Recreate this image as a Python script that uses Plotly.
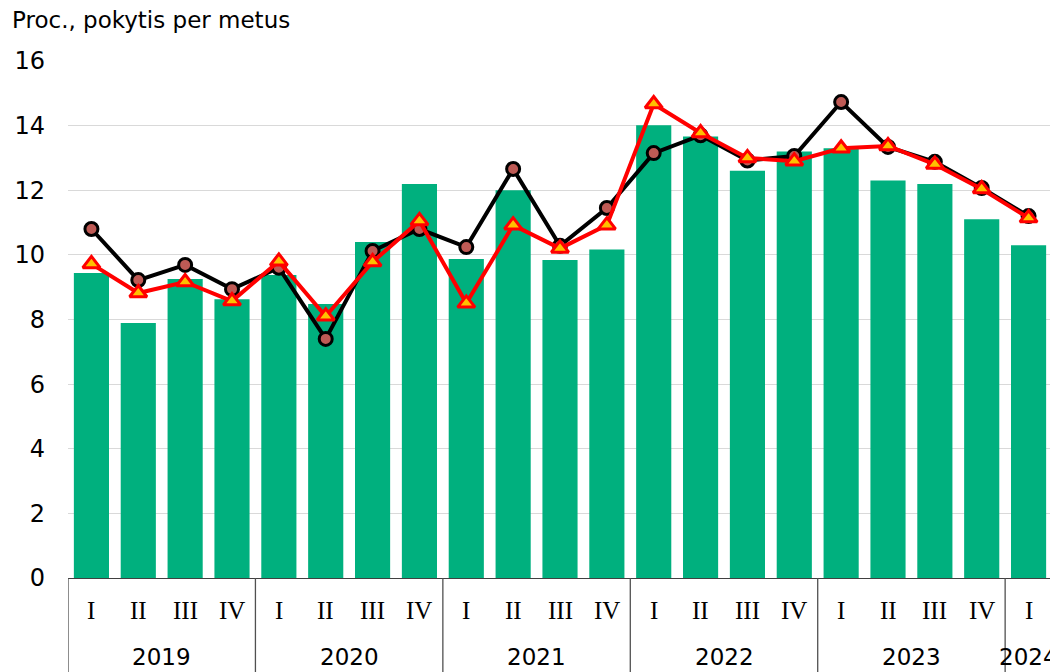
import plotly.graph_objects as go

years = ["2019", "2020", "2021", "2022", "2023", "2024"]
quarters = ["I", "II", "III", "IV"]
year_quarter_counts = [4, 4, 4, 4, 4, 1]

bar_values = [9.44, 7.89, 9.25, 8.63, 9.38, 8.48, 10.4, 12.19,
              9.87, 12.0, 9.84, 10.17, 14.01, 13.66, 12.6, 13.2,
              13.3, 12.3, 12.19, 11.1, 10.3]
black_values = [10.8, 9.22, 9.69, 8.94, 9.6, 7.4, 10.12, 10.8,
                10.24, 12.66, 10.28, 11.45, 13.15, 13.7, 12.92, 13.06,
                14.73, 13.34, 12.88, 12.07, 11.2]
red_values = [9.72, 8.82, 9.16, 8.57, 9.8, 8.1, 9.78, 11.05,
              8.5, 10.92, 10.2, 10.92, 14.67, 13.77, 13.0, 12.9,
              13.3, 13.37, 12.8, 12.04, 11.14]
y_ticks = [0, 2, 4, 6, 8, 10, 12, 14, 16]
title_text = "Proc., pokytis per metus"

# build categories
cat_year = []
cat_q = []
for y, n in zip(years, year_quarter_counts):
    for q in quarters[:n]:
        cat_year.append(y)
        cat_q.append(q)
categories = [f"{y} {q}" for y, q in zip(cat_year, cat_q)]

fig = go.Figure()
fig.add_trace(go.Bar(x=categories, y=bar_values, marker_color="#00B07E",
                     marker_line_width=0, showlegend=False))
fig.add_trace(go.Scatter(x=categories, y=black_values, mode="lines+markers",
                         line=dict(color="black", width=4),
                         marker=dict(symbol="circle", size=13, color="#BE5A55",
                                     line=dict(color="black", width=3)),
                         showlegend=False))
fig.add_trace(go.Scatter(x=categories, y=red_values, mode="lines+markers",
                         line=dict(color="#FF0000", width=4),
                         marker=dict(symbol="triangle-up", size=15, color="#FFC000",
                                     line=dict(color="#FF0000", width=3)),
                         showlegend=False))

annotations = []
shapes = []
for i, q in enumerate(cat_q):
    annotations.append(dict(x=categories[i], y=-0.062, xref="x", yref="paper",
                            text=q, showarrow=False, yanchor="middle",
                            font=dict(family="Liberation Serif", size=25, color="black")))
start = 0
for y, n in zip(years, year_quarter_counts):
    center = start + (n - 1) / 2
    annotations.append(dict(x=center, y=-0.153, xref="x", yref="paper",
                            text=y, showarrow=False, yanchor="middle",
                            font=dict(family="DejaVu Sans", size=23, color="black")))
    shapes.append(dict(type="line", xref="x", yref="paper", x0=start - 0.5, x1=start - 0.5,
                       y0=0, y1=-0.2, line=dict(color="#505050", width=1.3)))
    start += n
shapes.append(dict(type="line", xref="x", yref="paper", x0=start - 0.5, x1=start - 0.5,
                   y0=0, y1=-0.2, line=dict(color="#505050", width=1.3)))

annotations.append(dict(x=0, y=1, xref="paper", yref="paper", xshift=-58, yshift=41,
                        text=title_text, showarrow=False, xanchor="left", yanchor="middle",
                        font=dict(family="DejaVu Sans", size=23, color="black")))

fig.update_layout(
    width=1050, height=664,
    margin=dict(l=60, r=6, t=53, b=94),
    plot_bgcolor="white", paper_bgcolor="white",
    bargap=0.25,
    annotations=annotations, shapes=shapes,
    xaxis=dict(type="category", showticklabels=False, showgrid=False,
               range=[-0.5, len(categories) - 0.5],
               showline=True, linecolor="#404040", linewidth=1.3, ticks=""),
    yaxis=dict(range=[0, 16], tickvals=y_ticks, showgrid=True, gridcolor="#D9D9D9",
               gridwidth=1, zeroline=False, showline=False, ticks="",
               ticklabelstandoff=22,
               tickfont=dict(family="DejaVu Sans", size=24, color="black")),
)

fig.write_html("out.html")
